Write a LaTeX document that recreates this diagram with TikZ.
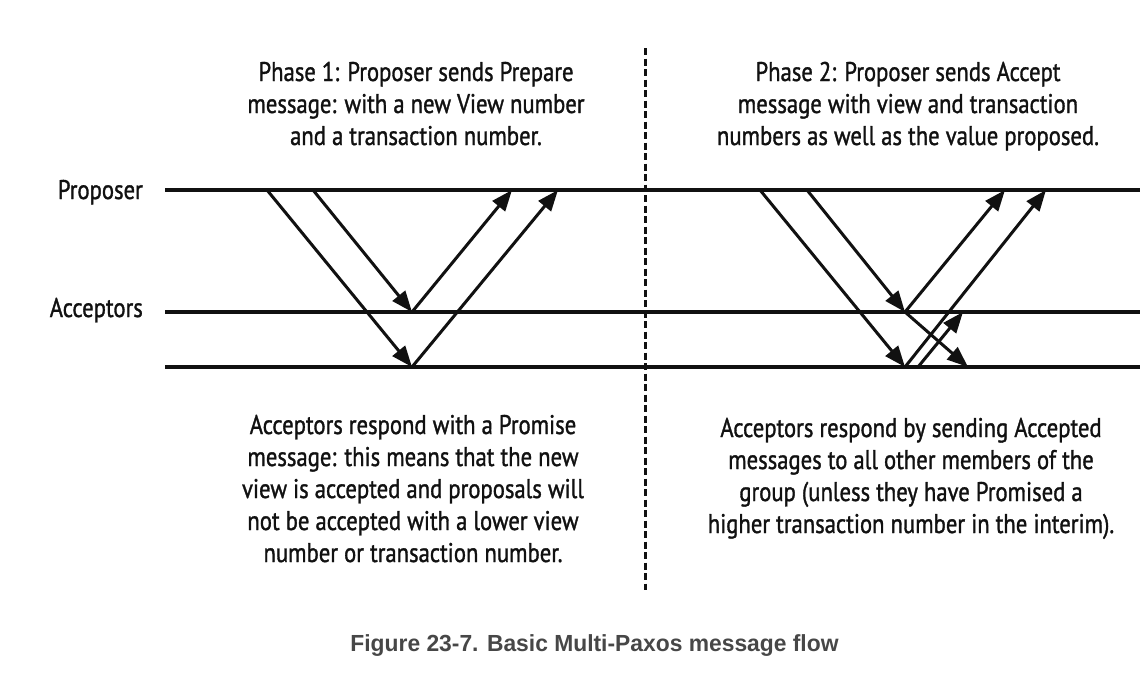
\documentclass[tikz,border=0pt]{standalone}
\usepackage{fontspec}
\setmainfont{PT Sans}[FakeStretch=0.84,FakeBold=1.2]
\newfontfamily\capfont{Liberation Sans}[FakeStretch=0.98]
\usetikzlibrary{arrows.meta}
\definecolor{capgray}{HTML}{474747}
\definecolor{ink}{HTML}{111111}
\begin{document}
\begin{tikzpicture}[x=1pt,y=-1pt,
  lifeline/.style={line width=3.2pt,draw=ink},
  msg/.style={line width=3pt,draw=ink,-{Triangle[length=21pt,width=16pt]}},
  divider/.style={line width=3pt,draw=ink,dash pattern=on 7pt off 3.5pt},
  desc/.style={font=\fontsize{27}{32}\selectfont,text=ink,align=center,anchor=base,inner sep=0pt},
  role/.style={font=\fontsize{27}{32}\selectfont,text=ink,anchor=base east,inner sep=0pt},
  caption/.style={font=\capfont\bfseries\fontsize{23.3}{28}\selectfont,text=capgray,anchor=base,inner sep=0pt}]
\useasboundingbox (0,0) rectangle (1140,678);
% lifelines
\coordinate (pL) at (165,190); \coordinate (pR) at (1140,190);
\coordinate (aL) at (165,312); \coordinate (aR) at (1140,312);
\coordinate (bL) at (165,367); \coordinate (bR) at (1140,367);
\draw[lifeline] (pL) -- (pR);
\draw[lifeline] (aL) -- (aR);
\draw[lifeline] (bL) -- (bR);
% divider
\coordinate (dT) at (645,48); \coordinate (dB) at (645,590);
\draw[divider] (dT) -- (dB);
% labels (base anchor = baseline of the last line)
\node[role] (proposer) at (143,199) {Proposer};
\node[role] (acceptors) at (143,317) {Acceptors};
\node[desc] (ph1) at (416,145) {Phase 1: Proposer sends Prepare\\message: with a new View number\\and a transaction number.};
\node[desc] (ph2) at (908,145) {Phase 2: Proposer sends Accept\\message with view and transaction\\numbers as well as the value proposed.};
\node[desc] (prom) at (413,562) {Acceptors respond with a Promise\\message: this means that the new\\view is accepted and proposals will\\not be accepted with a lower view\\number or transaction number.};
\node[desc] (acc) at (911,533) {Acceptors respond by sending Accepted\\messages to all other members of the\\group (unless they have Promised a\\higher transaction number in the interim).};
\node[caption] (cap) at (594.5,651) {Figure 23-7. Basic Multi-Paxos message flow};
% phase 1 points
\coordinate (l1) at (267,190); \coordinate (l2) at (313,190);
\coordinate (la) at (412,312); \coordinate (lb) at (412,367);
\coordinate (l3) at (512,190); \coordinate (l4) at (558,190);
\draw[msg] (l1) -- (lb);
\draw[msg] (l2) -- (la);
\draw[msg] (la) -- (l3);
\draw[msg] (lb) -- (l4);
% phase 2 points
\coordinate (r1) at (760,190); \coordinate (r2) at (807,190);
\coordinate (ra) at (905,312); \coordinate (rb) at (905,367);
\coordinate (r3) at (1005,190); \coordinate (r4) at (1046,190);
\coordinate (rc) at (968,367); \coordinate (rd) at (918,367);
\coordinate (re) at (963,312);
\draw[msg] (r1) -- (rb);
\draw[msg] (r2) -- (ra);
\draw[msg] (ra) -- (r3);
\draw[msg] (rb) -- (r4);
\draw[msg] (ra) -- (rc);
\draw[msg] (rd) -- (re);
\end{tikzpicture}
\end{document}
